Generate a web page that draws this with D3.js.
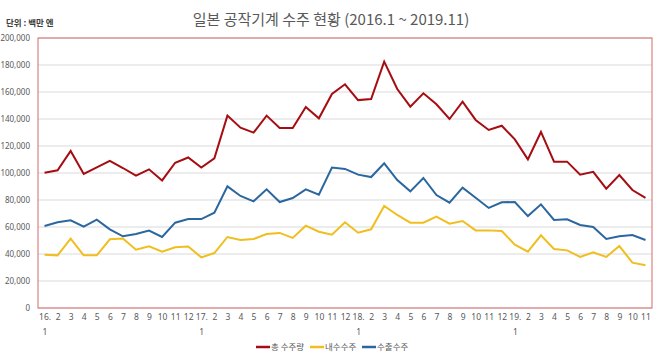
<!DOCTYPE html>
<html><head><meta charset="utf-8">
<script src="https://cdn.jsdelivr.net/npm/d3@7"></script>
<style>
html,body{margin:0;padding:0;background:#fff;}
text{font-family:"Noto Sans CJK KR","Noto Sans",sans-serif;}
</style></head>
<body><svg id="c" width="660" height="358"></svg>
<script>
const categories = [
"16.|1","2","3","4","5","6","7","8","9","10","11","12",
"17.|1","2","3","4","5","6","7","8","9","10","11","12",
"18.|1","2","3","4","5","6","7","8","9","10","11","12",
"19.|1","2","3","4","5","6","7","8","9","10","11"];
const totalOrders = [100200,102000,116300,99300,104200,109000,103700,98000,102700,94500,107600,111500,
104000,110900,142500,133600,129900,142500,133300,133300,148900,140500,158500,165700,
154000,154800,182500,162200,149100,159000,150900,140000,152800,139300,131900,135000,
124900,110100,130400,108400,108400,98800,100900,88400,98500,87400,81500];
const domesticOrders = [39500,39000,51400,39000,39000,50900,51400,43200,45700,41700,45000,45600,
37500,40700,52600,50400,51100,54800,55600,51900,61000,56500,54300,63500,
55800,58300,75600,68900,63200,63200,67700,62500,64400,57500,57500,57000,
46900,41700,53800,43700,42700,37800,41200,37800,45900,33600,31600];
const exportOrders = [60700,63500,65000,60200,65400,58300,53100,54800,57300,52600,63200,65900,
65900,70600,90100,83000,79000,87900,78500,81500,87900,83900,104000,103000,
98800,97000,107200,94800,86400,96300,83700,78000,89100,81700,74100,78300,
78500,68100,76800,65200,65700,61500,60000,51100,53100,54100,50400];
const yTicks = [0,20000,40000,60000,80000,100000,120000,140000,160000,180000,200000];
const seriesNames = ["총 수주량","내수수주","수출수주"];
const seriesColors = ["#a50d12","#f0be1e","#2b679f"];
const titleText = "일본 공작기계 수주 현황 (2016.1 ~ 2019.11)";
const unitText = "단위 : 백만 엔";

const svg = d3.select("#c");
const L = 38, R = 652, T = 38, B = 308;
const x = d3.scalePoint().domain(d3.range(categories.length)).range([L, R]).padding(0.5);
const y = d3.scaleLinear().domain([0, 200000]).range([B, T]);

// gridlines
svg.append("g").selectAll("line").data(yTicks).join("line")
  .attr("x1", L).attr("x2", R)
  .attr("y1", d => y(d)).attr("y2", d => y(d))
  .attr("stroke", "#d9d9d9").attr("stroke-width", 1);

// plot border
svg.append("rect").attr("x", L).attr("y", T).attr("width", R - L).attr("height", B - T)
  .attr("fill", "none").attr("stroke", "#d36b6b").attr("stroke-width", 1);

// y axis labels
const yAxis = d3.axisLeft(y).tickValues(yTicks).tickSize(0).tickPadding(0)
  .tickFormat(d3.format(","));
const ya = svg.append("g").attr("transform", `translate(${L - 8},0)`).call(yAxis);
ya.select(".domain").remove();
ya.selectAll("text").attr("fill", "#595959").style("font-size", "8px")
  .style("font-family", "'Noto Sans','DejaVu Sans',sans-serif");

// x axis labels
const xAxis = d3.axisBottom(x).tickSize(0).tickPadding(0).tickFormat(i => categories[i]);
const xa = svg.append("g").attr("transform", `translate(0,${B + 6})`).call(xAxis);
xa.select(".domain").remove();
xa.selectAll("text").each(function(i) {
  const parts = categories[i].split("|");
  const t = d3.select(this).text(null).attr("fill", "#595959").style("font-size", "8.5px")
     .style("font-family", "'Noto Sans','DejaVu Sans',sans-serif");
  parts.forEach((p, k) => t.append("tspan").attr("x", 0).attr("dy", k === 0 ? "0.71em" : "1.75em").text(p));
});

// lines
const seriesData = [totalOrders, domesticOrders, exportOrders];
const line = d3.line().x((d, i) => x(i)).y(d => y(d));
seriesData.forEach((s, k) => {
  svg.append("path").datum(s).attr("d", line).attr("fill", "none")
    .attr("stroke", seriesColors[k]).attr("stroke-width", 2).attr("stroke-linejoin", "miter");
});

// title
svg.append("text").attr("x", 331).attr("y", 25).attr("text-anchor", "middle")
  .attr("fill", "#595959").style("font-size", "15px").text(titleText);
svg.append("text").attr("x", 6).attr("y", 26).attr("fill", "#404040")
  .style("font-size", "8.5px").style("font-weight", "bold").text(unitText);

// legend
const legX = [256, 310, 362];
const lg = svg.append("g");
seriesNames.forEach((n, k) => {
  lg.append("line").attr("x1", legX[k]).attr("x2", legX[k] + 14).attr("y1", 347).attr("y2", 347)
    .attr("stroke", seriesColors[k]).attr("stroke-width", 2.5);
  lg.append("text").attr("x", legX[k] + 15).attr("y", 350).attr("fill", "#595959")
    .style("font-size", "8.5px").text(n);
});
</script></body></html>
